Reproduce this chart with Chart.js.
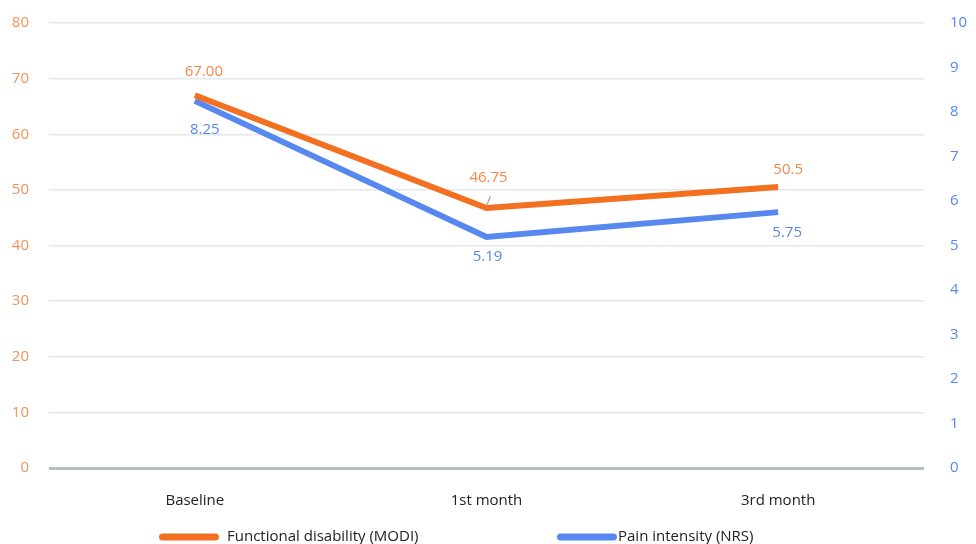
<!DOCTYPE html>
<html>
<head>
<meta charset="utf-8">
<script src="https://cdn.jsdelivr.net/npm/chart.js@4"></script>
<style>
  html, body { margin: 0; padding: 0; background: #fff; }
  #wrap { width: 976px; height: 544px; }
</style>
</head>
<body>
<div id="wrap"><canvas id="myChart"></canvas></div>
<script>
var categories = ["Baseline", "1st month", "3rd month"];
var modi = [67.00, 46.75, 50.5];
var nrs = [8.25, 5.19, 5.75];
var modiLabels = ["67.00", "46.75", "50.5"];
var nrsLabels = ["8.25", "5.19", "5.75"];

var orange = '#f37021';
var blue = '#5688f0';
var font = '"Open Sans"';

// value labels next to the points
var valueLabels = {
  id: 'valueLabels',
  afterDatasetsDraw: function(chart, args, opts) {
    var c = chart.ctx;
    c.save();
    c.font = '15px ' + font;
    c.textAlign = 'center';
    c.textBaseline = 'middle';
    chart.data.datasets.forEach(function(ds, i) {
      var meta = chart.getDatasetMeta(i);
      var offs = opts.offsets[i];
      meta.data.forEach(function(pt, j) {
        var o = offs[j];
        if (o[2]) {
          // little leader line
          c.strokeStyle = '#9aa5a5';
          c.lineWidth = 1.2;
          c.beginPath();
          c.moveTo(pt.x, pt.y - 2);
          c.lineTo(pt.x + 4, pt.y - 12);
          c.stroke();
        }
        c.fillStyle = opts.colors[i];
        c.fillText(opts.texts[i][j], pt.x + o[0], pt.y + o[1]);
      });
    });
    c.restore();
  }
};

// legend drawn at the bottom, line markers + text
var bottomLegend = {
  id: 'bottomLegend',
  afterDraw: function(chart, args, opts) {
    var c = chart.ctx;
    c.save();
    c.font = '15px ' + font;
    c.textBaseline = 'middle';
    c.textAlign = 'left';
    chart.data.datasets.forEach(function(ds, i) {
      var x = opts.x[i];
      c.strokeStyle = ds.borderColor;
      c.lineWidth = 7;
      c.lineCap = 'round';
      c.beginPath();
      c.moveTo(x + 3.5, opts.y);
      c.lineTo(x + opts.boxWidth - 3.5, opts.y);
      c.stroke();
      c.fillStyle = '#222';
      c.fillText(ds.label, x + opts.boxWidth + opts.gap[i], opts.y);
    });
    c.restore();
  }
};

var ctx = document.getElementById("myChart").getContext('2d');
var myChart = new Chart(ctx, {
  type: 'line',
  data: {
    labels: categories,
    datasets: [{
      label: "Functional disability (MODI)",
      data: modi,
      borderColor: orange,
      backgroundColor: orange,
      borderWidth: 6,
      pointRadius: 0,
      tension: 0,
      yAxisID: 'y'
    }, {
      label: "Pain intensity (NRS)",
      data: nrs,
      borderColor: blue,
      backgroundColor: blue,
      borderWidth: 6,
      pointRadius: 0,
      tension: 0,
      yAxisID: 'y1'
    }]
  },
  options: {
    responsive: true,
    maintainAspectRatio: false,
    animation: false,
    layout: { padding: { top: 23, left: 0, right: 0, bottom: 36 } },
    plugins: {
      legend: { display: false },
      tooltip: { enabled: false },
      valueLabels: {
        texts: [modiLabels, nrsLabels],
        colors: ['#f4884a', blue],
        offsets: [
          [[9, -24], [2, -30, true], [10, -17]],
          [[10, 29], [1, 20], [9, 21]]
        ]
      },
      bottomLegend: {
        x: [159, 557],
        y: 537,
        boxWidth: 60,
        gap: [8, 1]
      }
    },
    scales: {
      x: {
        offset: true,
        grid: { display: false },
        border: { display: false },
        afterFit: function(s) { s.height = 40; },
        ticks: {
          color: '#222',
          padding: 16,
          font: { family: font, size: 15 }
        }
      },
      y: {
        position: 'left',
        min: 0,
        max: 80,
        border: { display: false },
        afterFit: function(s) { s.width = 49; s.paddingTop = 0; },
        grid: {
          drawTicks: false,
          color: function(c) { return c.tick.value === 0 ? '#b7bfbf' : '#e5e8ea'; },
          lineWidth: function(c) { return c.tick.value === 0 ? 3 : 1.5; }
        },
        ticks: {
          stepSize: 10,
          color: '#f4925a',
          padding: 20,
          font: { family: font, size: 15 }
        }
      },
      y1: {
        position: 'right',
        min: 0,
        max: 10,
        border: { display: false },
        afterFit: function(s) { s.width = 52; s.paddingTop = 0; },
        grid: { display: false },
        ticks: {
          stepSize: 1,
          color: blue,
          padding: 18,
          font: { family: font, size: 15 }
        }
      }
    }
  },
  plugins: [valueLabels, bottomLegend]
});
</script>
</body>
</html>
